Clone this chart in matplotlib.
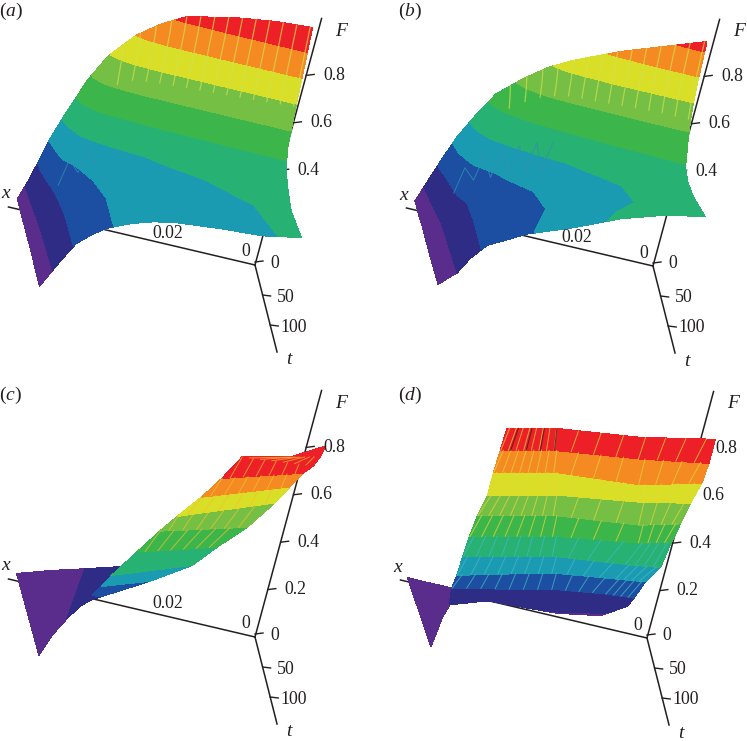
import numpy as np
import matplotlib
matplotlib.use("Agg")
import matplotlib.pyplot as plt

plt.rcParams['font.family'] = ['Liberation Serif', 'DejaVu Serif']
plt.rcParams['mathtext.fontset'] = 'custom'
plt.rcParams['mathtext.rm'] = 'Liberation Serif'
plt.rcParams['mathtext.it'] = 'Liberation Serif:italic'

band_colors = ['#5a2d8c', '#2f2c86', '#1c4fa1', '#1b9bb2', '#27b172',
               '#3cb54a', '#74bf44', '#d8df26', '#f48a21', '#ee2027']
ink = '#231f20'

# panels (a) and (b): F read on a regular x, t grid
grid_x = [0.0015, 0.01, 0.02, 0.03, 0.035, 0.04, 0.045, 0.048, 0.051, 0.053, 0.055, 0.0565]
grid_t = [0, 5, 10, 15, 25, 40, 60, 90, 145]
levels_ab = [0, .1, .2, .3, .4, .5, .6, .7, .8, .9, 1.01]

F_a = [[.995, .985, .96, .92, .87, .80, .69, .58, .42, .30, .13, .04],
       [.90, .89, .88, .86, .83, .77, .67, .57, .41, .27, .13, .04],
       [.80, .79, .78, .77, .75, .71, .63, .54, .39, .26, .13, .04],
       [.69, .68, .67, .66, .655, .64, .58, .50, .37, .25, .125, .04],
       [.53, .53, .525, .52, .51, .49, .46, .42, .33, .22, .12, .04],
       [.47, .46, .44, .41, .395, .37, .335, .30, .25, .18, .105, .04],
       [.44, .43, .40, .38, .365, .34, .30, .265, .22, .16, .095, .04],
       [.41, .40, .38, .365, .35, .325, .285, .25, .205, .15, .09, .04],
       [.415, .39, .38, .365, .35, .325, .29, .255, .21, .15, .085, .035]]

F_b = [[.94, .885, .82, .74, .69, .62, .535, .44, .33, .23, .12, .036],
       [.78, .78, .76, .71, .67, .60, .52, .43, .32, .225, .11, .036],
       [.69, .69, .69, .67, .64, .58, .50, .42, .31, .21, .10, .036],
       [.64, .64, .63, .62, .60, .55, .48, .40, .30, .19, .095, .036],
       [.57, .565, .55, .53, .51, .46, .41, .35, .27, .165, .09, .036],
       [.49, .47, .44, .39, .36, .33, .29, .27, .225, .13, .08, .04],
       [.47, .43, .38, .33, .30, .27, .24, .215, .175, .11, .07, .04],
       [.47, .42, .37, .32, .29, .26, .235, .21, .17, .105, .07, .04],
       [.495, .47, .42, .35, .32, .29, .245, .22, .16, .10, .07, .045]]

# panels (c) and (d) are twisted, so x and t are read per point
levels_cd = [0, .08, .16, .24, .32, .40, .48, .56, .64, .72, .9]

c_wedge_F = [.02, .04, .08, .11, .14]
c_wedge_x = [[.0562, .0484, .0407, .0371, .0339], [.0558, .0516, .0483, .0452, .0432]]
c_wedge_t = [[-4, -14, -14, -10, -5], [131, 97, 81, 67, 66]]

c_sheet_F = [.14, .24, .32, .40, .48, .56, .64, .72, .76, .78, .82]
c_sheet_x = [[.0432, .0425, .0418, .0365, .0319, .0290, .0243, .0205, .0154, .0040, -.0042],
             [.0433, .0302, .0211, .0162, .0099, .0039, .0016, -.0001, -.0018, -.0035, -.0042]]
c_sheet_t = [[62, 81, 93, 77, 66, 68, 60, 54, 26, 15, -1],
             [66, 52, 42, 35, 23, 4, 5, 11, 12, 2, -1]]

d_wedge_F = [.02, .03, .04, .06]
d_wedge_x = [[.0567, .0532, .0504, .0477], [.0552, .0533, .0511, .0491]]
d_wedge_t = [[2, 7, 11, 20], [114, 92, 66, 50]]

d_sheet_F = [[.78, .78, .78, .78, .82],
             [.72, .72, .72, .72, .72],
             [.64, .64, .64, .64, .64],
             [.56, .56, .56, .56, .56],
             [.48, .48, .48, .48, .48],
             [.40, .40, .40, .40, .40],
             [.32, .32, .32, .32, .32],
             [.24, .24, .24, .24, .24],
             [.16, .16, .16, .16, .16],
             [.10, .095, .075, .07, .10]]
d_sheet_x = [[.0459, .0397, .0335, .0132, -.0042],
             [.0471, .0400, .0330, .0127, -.0042],
             [.0477, .0398, .0319, .0118, -.0037],
             [.0482, .0395, .0308, .0104, -.0020],
             [.0495, .0395, .0296, .0094, -.0007],
             [.0504, .0395, .0285, .0081, .0003],
             [.0508, .0390, .0273, .0103, .0021],
             [.0510, .0385, .0259, .0112, .0043],
             [.0506, .0375, .0244, .0122, .0057],
             [.0504, .0406, .0233, .0125, .0061]]
d_sheet_t = [[35, 25, 15, -4, -14],
             [50, 38, 27, 7, -14],
             [56, 43, 30, 17, -12],
             [64, 49, 34, 12, -7],
             [68, 51, 35, 17, -2],
             [73, 54, 36, 13, -1],
             [75, 55, 36, 21, 12],
             [75, 52, 30, 15, 8],
             [64, 44, 23, 10, 6],
             [68, 43, 27, 11, -3]]

F_ticks = {'a': [.8, .6, .4], 'b': [.8, .6, .4], 'c': [.8, .6, .4, .2], 'd': [.8, .6, .4, .2]}
t_ticks = [50, 100]
origins = {'a': (255, 265), 'b': (653, 266), 'c': (255, 637), 'd': (647, 638)}
tags = {'a': (11, 11), 'b': (410, 11), 'c': (10, 395), 'd': (410, 395)}
x_label_shift = {'a': (-2, -12), 'b': (9, -8), 'c': (-2, -14), 'd': None}
tick_size = 12.8


def project(panel, x, t, F, persp=0.0):
    # linear view, axes share one direction set in all panels
    x, t, F = np.asarray(x, float), np.asarray(t, float), np.asarray(F, float)
    ox, oy = origins[panel]
    F = F * (1 + persp * t / 145)
    px = ox - 4250 * x + 0.152 * t + 64 * F
    py = oy - 1000 * x + 0.6 * t - 237 * F
    return px, py


def surface(ax, panel, x, t, F, levels, persp=0.0, zorder=3):
    px, py = project(panel, x, t, F, persp)
    cs = ax.contourf(px, py, F, levels=levels, colors=band_colors, zorder=zorder)
    cs.set_edgecolor('face')
    cs.set_linewidth(0.3)
    return px, py


def draw_axes(ax, panel):
    ox, oy = origins[panel]
    for end in [project(panel, 0.058, 0, 0), project(panel, 0, 145, 0), project(panel, 0, 0, 1.04)]:
        ax.plot([ox, end[0]], [oy, end[1]], color=ink, lw=1.1, zorder=1)
    for v in F_ticks[panel]:
        px, py = project(panel, 0, 0, v)
        ax.plot([px, px + 8], [py, py - 1], color=ink, lw=1.0, zorder=1)
        ax.text(px + 28, py, f'{v:.1f}', ha='center', va='center', fontsize=tick_size, color=ink, zorder=6)
    ax.plot([ox, ox + 8], [oy - 3, oy - 4], color=ink, lw=1.0, zorder=1)
    ax.text(ox + 20, oy - 2, '0', ha='center', va='center', fontsize=tick_size, color=ink)
    for v in t_ticks:
        px, py = project(panel, 0, v, 0)
        ax.plot([px, px + 8], [py, py + 1], color=ink, lw=1.0, zorder=1)
        ax.text(px + 23, py + 2, str(v), ha='center', va='center', fontsize=tick_size, color=ink)
    ax.text(ox + 86, oy - 234, 'F', style='italic', ha='center', va='center', fontsize=14, color=ink)
    ax.text(ox - 249, oy - 71, 'x', style='italic', ha='center', va='center', fontsize=14, color=ink)
    ax.text(ox + 34, oy + 95, 't', style='italic', ha='center', va='center', fontsize=14, color=ink)
    ax.text(ox - 9, oy - 13, '0', ha='center', va='center', fontsize=tick_size, color=ink, zorder=6)
    if x_label_shift[panel]:
        px, py = project(panel, 0.02, 0, 0)
        dx, dy = x_label_shift[panel]
        ax.text(px + dx, py + dy, '0.02', ha='center', va='center', fontsize=tick_size, color=ink, zorder=6)
    ax.text(tags[panel][0], tags[panel][1], f'($\\mathit{{{panel}}}$)', ha='center', va='center',
            fontsize=14, color=ink)


def sample_F(table, x, t):
    col = [np.interp(x, grid_x, row) for row in table]
    return np.interp(t, grid_t, col)


def t_hairlines(ax, panel, table, persp):
    # thin mesh strokes along t over the upper bands
    for xv in np.arange(0.002, 0.043, 0.0031):
        ts = grid_t[:4]
        Fv = [sample_F(table, xv, tv) for tv in ts]
        px, py = project(panel, [xv] * 4, ts, Fv, persp)
        ax.plot(px, py, color='#d3df4e', lw=0.9, alpha=0.7, zorder=4)


def zigzag(ax, panel, table, persp, x_start, x_stop, t_low, t_high):
    # mesh triangles that show through the lower bands
    xs = np.arange(x_start, x_stop, -0.0018)
    ts = [t_low if i % 2 else t_high for i in range(len(xs))]
    Fv = [sample_F(table, a, b) for a, b in zip(xs, ts)]
    px, py = project(panel, xs, ts, Fv, persp)
    ax.plot(px, py, color='#2f8fb5', lw=0.7, alpha=0.8, zorder=4)


def strokes(ax, px, py, F, rows, cols, rgb_top, rgb_low, step_col):
    # short mesh strokes running from one grid line to the next
    nr, nc = px.shape
    for i in rows:
        color = rgb_top if F[i].mean() > 0.4 else rgb_low
        for u in cols:
            j = int(u)
            f = u - j
            a = (px[i, j] * (1 - f) + px[i, j + 1] * f, py[i, j] * (1 - f) + py[i, j + 1] * f)
            u2 = max(u + step_col, 0)
            j3 = int(u2)
            g = u2 - j3
            b = (px[i + 1, j3] * (1 - g) + px[i + 1, j3 + 1] * g, py[i + 1, j3] * (1 - g) + py[i + 1, j3 + 1] * g)
            ax.plot([a[0], b[0]], [a[1], b[1]], color=color, lw=0.7, alpha=0.75, zorder=4)


fig = plt.figure(figsize=(7.47, 7.41), dpi=100)
ax = fig.add_axes([0, 0, 1, 1])
ax.set_xlim(0, 747)
ax.set_ylim(741, 0)
ax.axis('off')

for panel in 'abcd':
    draw_axes(ax, panel)

# (a), (b)
gx, gt = np.meshgrid(grid_x, grid_t)
surface(ax, 'a', gx, gt, np.array(F_a), levels_ab, persp=0.15)
surface(ax, 'b', gx, gt, np.array(F_b), levels_ab, persp=0.15)
t_hairlines(ax, 'a', F_a, 0.15)
t_hairlines(ax, 'b', F_b, 0.15)
zigzag(ax, 'a', F_a, 0.15, 0.0515, 0.043, 34, 46)
zigzag(ax, 'b', F_b, 0.15, 0.0515, 0.030, 32, 44)

# (c)
surface(ax, 'c', np.array(c_wedge_x), np.array(c_wedge_t), np.array([c_wedge_F, c_wedge_F]), levels_cd, zorder=3)
cF = np.array([c_sheet_F, c_sheet_F])
cx, cy = surface(ax, 'c', np.array(c_sheet_x), np.array(c_sheet_t), cF, levels_cd, zorder=3.5)
for j in range(3, 9):
    for f in np.linspace(0.1, 0.9, 6):
        a = (cx[0, j] * f + cx[1, j] * (1 - f), cy[0, j] * f + cy[1, j] * (1 - f))
        g = min(f + 0.1, 1)
        b = (cx[0, j + 1] * g + cx[1, j + 1] * (1 - g), cy[0, j + 1] * g + cy[1, j + 1] * (1 - g))
        ax.plot([a[0], b[0]], [a[1], b[1]], color='#f2c230', lw=0.7, alpha=0.7, zorder=4)

# (d)
surface(ax, 'd', np.array(d_wedge_x), np.array(d_wedge_t), np.array([d_wedge_F, d_wedge_F]), levels_cd, zorder=3)
dx_arr, dt_arr, dF_arr = np.array(d_sheet_x), np.array(d_sheet_t), np.array(d_sheet_F)
dpx, dpy = surface(ax, 'd', dx_arr, dt_arr, dF_arr, levels_cd, zorder=3.5)
strokes(ax, dpx, dpy, dF_arr, range(0, 8), np.arange(0.1, 3.9, 0.27), '#e9d43a', '#45b8c0', -0.09)
strokes(ax, dpx, dpy, dF_arr, [0], [0.45, 1.0, 1.5, 2.0], ink, ink, -0.09)

fig.savefig('out.png', dpi=100)
